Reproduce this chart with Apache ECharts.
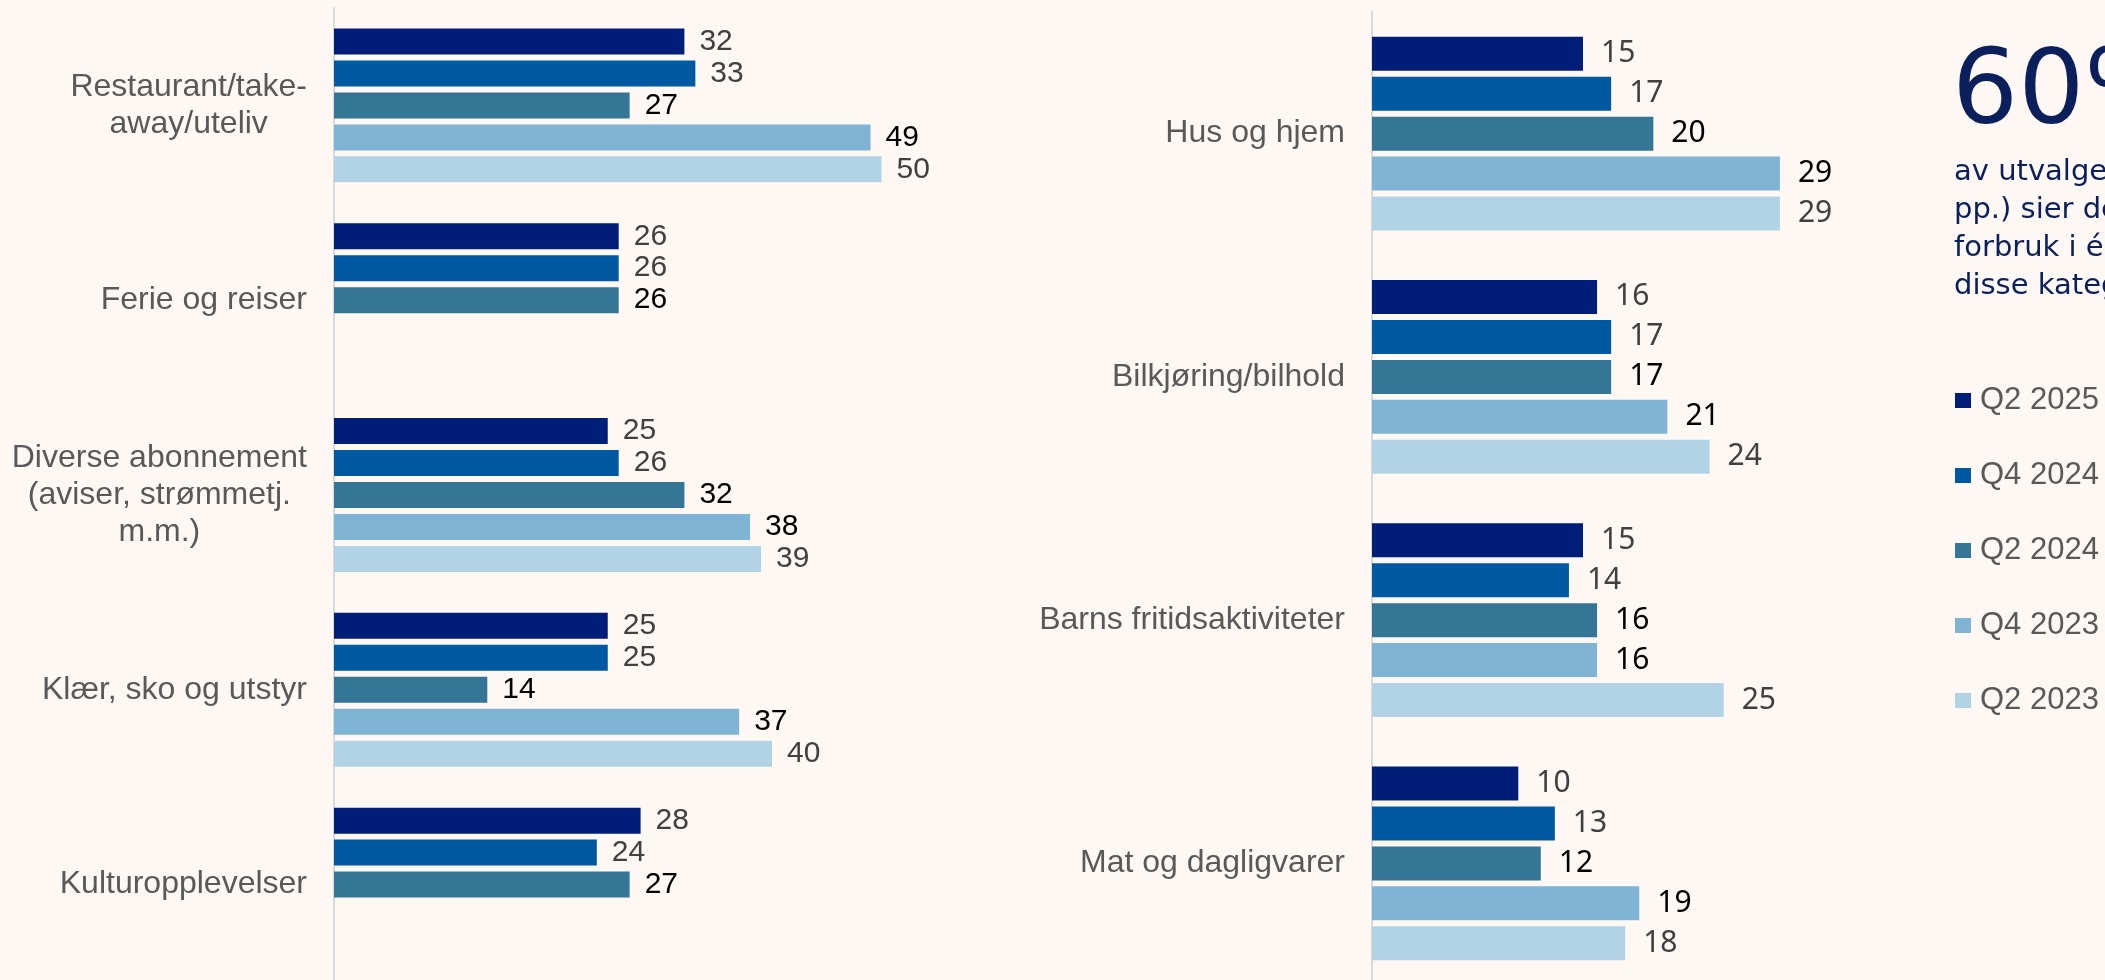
<!DOCTYPE html>
<html>
<head>
    <meta charset="utf-8">
    <title>Kuttet forbruk</title>
    <script src="https://cdn.jsdelivr.net/npm/echarts@6/dist/echarts.min.js"></script>
    <style>
        html, body {
            margin: 0;
            padding: 0;
            background: #fdf8f4;
        }

        #chart {
            width: 2105px;
            height: 980px;
        }
    </style>
</head>
<body>
<div id="chart"></div>
<script>
    // kategorier
    var leftCategories = ['Restaurant/take-\naway/uteliv', 'Ferie og reiser', 'Diverse abonnement\n(aviser, strømmetj.\nm.m.)', 'Klær, sko og utstyr', 'Kulturopplevelser'];
    var rightCategories = ['Hus og hjem', 'Bilkjøring/bilhold', 'Barns fritidsaktiviteter', 'Mat og dagligvarer'];
    var periods = ['Q2 2025', 'Q4 2024', 'Q2 2024', 'Q4 2023', 'Q2 2023'];

    // venstre panel, én liste per periode
    var leftQ2_2025 = [32, 26, 25, 25, 28];
    var leftQ4_2024 = [33, 26, 26, 25, 24];
    var leftQ2_2024 = [27, 26, 32, 14, 27];
    var leftQ4_2023 = [49, null, 38, 37, null];
    var leftQ2_2023 = [50, null, 39, 40, null];

    // høyre panel
    var rightQ2_2025 = [15, 16, 15, 10.4];
    var rightQ4_2024 = [17, 17, 14, 13];
    var rightQ2_2024 = [20, 17, 16, 12];
    var rightQ4_2023 = [29, 21, 16, 19];
    var rightQ2_2023 = [29, 24, 25, 18];

    var colors = ['#001e78', '#0059a1', '#357596', '#7fb4d4', '#b2d3e5'];
    var labelColors = ['#404040', '#404040', '#000000', '#000000', '#404040'];

    var leftData = [leftQ2_2025, leftQ4_2024, leftQ2_2024, leftQ4_2023, leftQ2_2023];
    var rightData = [rightQ2_2025, rightQ4_2024, rightQ2_2024, rightQ4_2023, rightQ2_2023];

    var chart = echarts.init(document.getElementById('chart'));

    function catAxis(idx, cats) {
        return {
            type: 'category',
            gridIndex: idx,
            data: cats,
            inverse: true,
            axisTick: {show: false},
            axisLine: {show: true, lineStyle: {color: '#d9d9d9', width: 2}},
            splitLine: {show: false},
            axisLabel: {
                margin: 27,
                formatter: function (v) {
                    return v.split('\n').map(function (s) {
                        return '{c|' + s + '}';
                    }).join('\n');
                },
                rich: {
                    c: {
                        align: 'center',
                        fontSize: 32,
                        lineHeight: 37,
                        fontFamily: 'Liberation Sans',
                        color: '#595959'
                    }
                }
            }
        };
    }

    function valAxis(idx, max) {
        return {
            type: 'value',
            gridIndex: idx,
            min: 0,
            max: max,
            show: false
        };
    }

    var series = [];
    periods.forEach(function (name, i) {
        series.push({
            name: name,
            type: 'bar',
            xAxisIndex: 0,
            yAxisIndex: 0,
            data: leftData[i],
            barWidth: 26,
            barGap: '23%',
            itemStyle: {color: colors[i]},
            label: {
                show: true,
                position: 'right',
                distance: 15,
                fontSize: 30,
                fontFamily: 'Liberation Sans',
                color: labelColors[i],
                formatter: function (p) {
                    return Math.round(p.value);
                }
            }
        });
        series.push({
            name: name,
            type: 'bar',
            xAxisIndex: 1,
            yAxisIndex: 1,
            data: rightData[i],
            barWidth: 34,
            barGap: '17.6%',
            itemStyle: {color: colors[i]},
            label: {
                show: true,
                position: 'right',
                distance: 18,
                fontSize: 30,
                fontFamily: 'Noto Sans',
                color: labelColors[i],
                formatter: function (p) {
                    return Math.round(p.value);
                }
            }
        });
    });

    var option = {
        backgroundColor: '#fdf8f4',
        animation: false,
        grid: [
            {left: 334, top: 8, width: 657, height: 974, outerBoundsMode: 'none'},
            {left: 1372, top: 12, width: 422, height: 973, outerBoundsMode: 'none'}
        ],
        xAxis: [valAxis(0, 60), valAxis(1, 30)],
        yAxis: [catAxis(0, leftCategories), catAxis(1, rightCategories)],
        legend: {
            data: periods,
            orient: 'vertical',
            left: 1955,
            top: 385,
            padding: 0,
            itemWidth: 16,
            itemHeight: 15,
            itemGap: 44,
            icon: 'rect',
            textStyle: {
                fontSize: 31,
                lineHeight: 31,
                fontFamily: 'Liberation Sans',
                color: '#595959',
                padding: [0, 0, 0, 4]
            }
        },
        graphic: [
            {
                type: 'text',
                left: 1952,
                top: 44,
                style: {
                    text: '60%',
                    fontSize: 104,
                    fontFamily: 'DejaVu Sans',
                    fill: '#0b1f5c'
                }
            },
            {
                type: 'text',
                left: 1954,
                top: 153,
                style: {
                    text: 'av utvalget (+4\npp.) sier de har kuttet\nforbruk i én eller flere av\ndisse kategoriene',
                    fontSize: 29,
                    lineHeight: 38,
                    fontFamily: 'DejaVu Sans',
                    fill: '#0b1f5c'
                }
            }
        ],
        series: series
    };

    chart.setOption(option);

    window.onresize = function () {
        chart.resize();
    };
</script>
</body>
</html>
